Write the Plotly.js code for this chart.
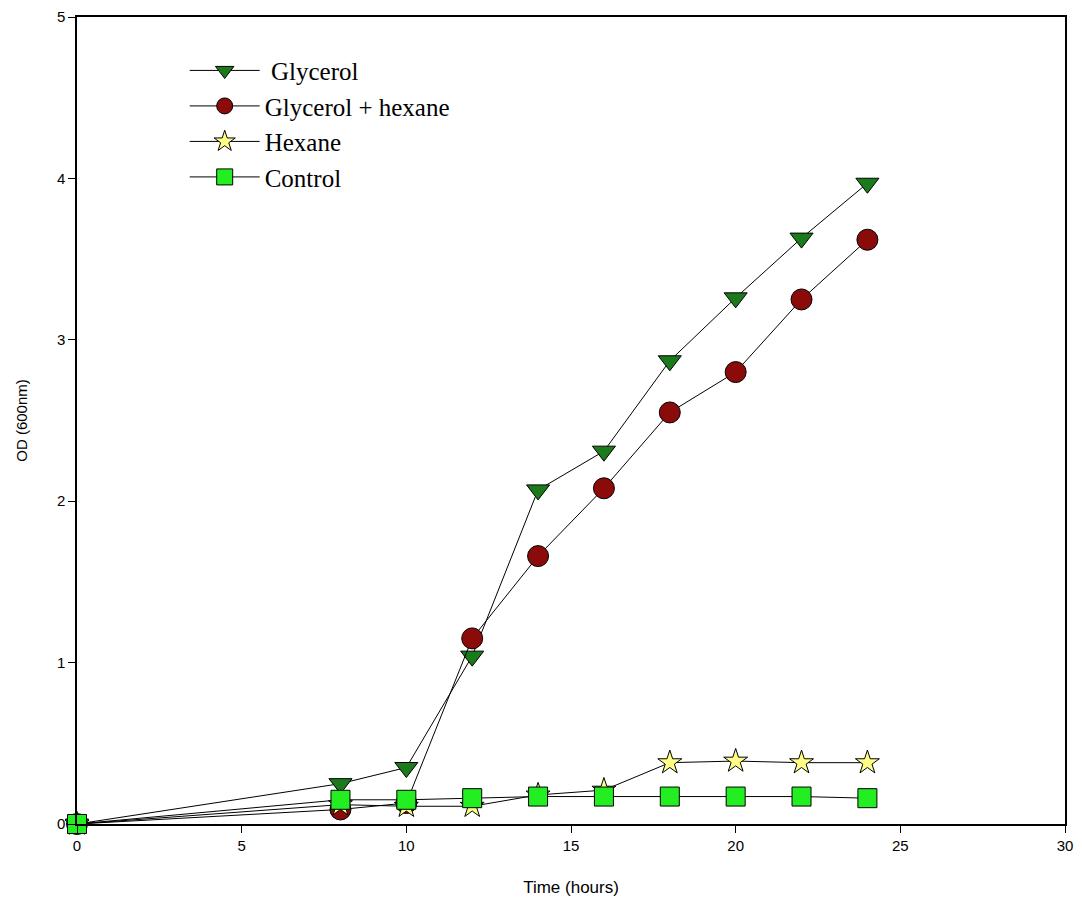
<!DOCTYPE html>
<html>
<head>
<meta charset="utf-8">
<script src="https://cdn.plot.ly/plotly-3.0.1.min.js"></script>
<style>html,body{margin:0;padding:0;background:#fff;}#chart{width:1082px;height:908px;}</style>
</head>
<body>
<div id="chart"></div>
<script>
const timeHours = [0, 8, 10, 12, 14, 16, 18, 20, 22, 24];
const glycerol = [0, 0.25, 0.35, 1.04, 2.07, 2.31, 2.87, 3.26, 3.63, 3.97];
const glycerolHexane = [0, 0.09, 0.13, 1.15, 1.66, 2.08, 2.55, 2.80, 3.25, 3.62];
const hexane = [0, 0.12, 0.11, 0.11, 0.18, 0.21, 0.38, 0.39, 0.38, 0.38];
const control = [0, 0.15, 0.15, 0.16, 0.17, 0.17, 0.17, 0.17, 0.17, 0.16];
const seriesNames = [" Glycerol", "Glycerol + hexane", "Hexane", "Control"];

const line = {color: "#000", width: 1};
const mline = {color: "#000", width: 1};
const traces = [
  {x: timeHours, y: glycerol, name: seriesNames[0], mode: "lines+markers", line: line, cliponaxis: false,
   marker: {symbol: "triangle-down", size: 20, color: "#1b7a1b", line: mline}},
  {x: timeHours, y: glycerolHexane, name: seriesNames[1], mode: "lines+markers", line: line, cliponaxis: false,
   marker: {symbol: "circle", size: 21, color: "#8b0a0a", line: mline}},
  {x: timeHours, y: hexane, name: seriesNames[2], mode: "lines+markers", line: line, cliponaxis: false,
   marker: {symbol: "star", size: 18, color: "#ffff88", line: mline}},
  {x: timeHours, y: control, name: seriesNames[3], mode: "lines+markers", line: line, cliponaxis: false,
   marker: {symbol: "square", size: 19, color: "#22ee22", line: mline}}
];

const axisFont = {family: "Arial, Liberation Sans, sans-serif", size: 15, color: "#000"};
const layout = {
  width: 1082, height: 908,
  margin: {l: 77, r: 17, t: 17, b: 84},
  paper_bgcolor: "#fff", plot_bgcolor: "#fff",
  showlegend: true,
  legend: {x: 0.109, y: 0.962, xanchor: "left", yanchor: "top", itemwidth: 70,
    font: {family: "Liberation Serif, Times New Roman, serif", size: 25, color: "#000"},
    bgcolor: "rgba(0,0,0,0)", tracegroupgap: 0},
  xaxis: {range: [0, 30], tickvals: [0, 5, 10, 15, 20, 25, 30], showgrid: false, zeroline: false,
    showline: true, mirror: true, linecolor: "#000", linewidth: 1.5,
    ticks: "outside", ticklen: 7, tickcolor: "#000", tickfont: axisFont,
    title: {text: "Time (hours)", font: {family: "Arial, Liberation Sans, sans-serif", size: 17, color: "#000"}, standoff: 28}},
  yaxis: {range: [0, 5], tickvals: [0, 1, 2, 3, 4, 5], showgrid: false, zeroline: false,
    showline: true, mirror: true, linecolor: "#000", linewidth: 1.5,
    ticks: "outside", ticklen: 7, tickcolor: "#000", tickfont: axisFont,
    title: {text: "OD (600nm)", font: {family: "Arial, Liberation Sans, sans-serif", size: 15, color: "#000"}, standoff: 26}}
};
Plotly.newPlot("chart", traces, layout, {displayModeBar: false});
</script>
</body>
</html>
